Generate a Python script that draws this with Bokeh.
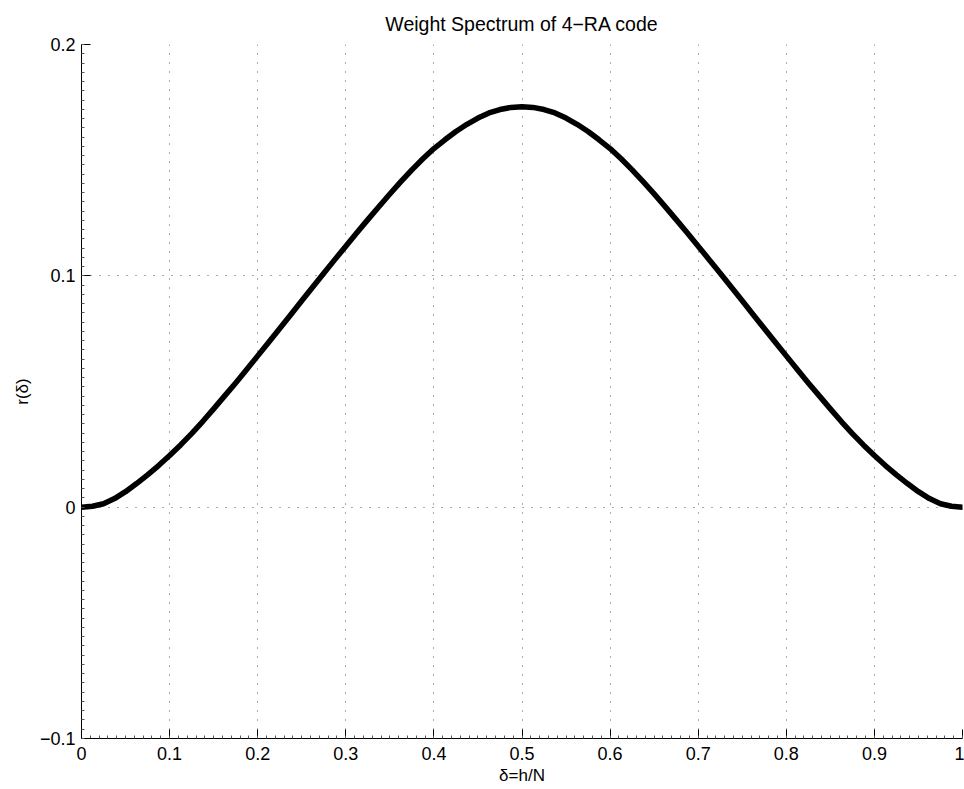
from bokeh.plotting import figure
from bokeh.models import FixedTicker, Range1d
from bokeh.embed import file_html
from bokeh.resources import INLINE

# data (delta = h/N, r(delta))
delta = [0.0, 0.0125, 0.025, 0.0375, 0.05, 0.0625, 0.075, 0.0875, 0.1, 0.1125,
         0.125, 0.1375, 0.15, 0.1625, 0.175, 0.1875, 0.2, 0.2125, 0.225, 0.2375,
         0.25, 0.2625, 0.275, 0.2875, 0.3, 0.3125, 0.325, 0.3375, 0.35, 0.3625,
         0.375, 0.3875, 0.4, 0.4125, 0.425, 0.4375, 0.45, 0.4625, 0.475, 0.4875,
         0.5,
         0.5125, 0.525, 0.5375, 0.55, 0.5625, 0.575, 0.5875, 0.6, 0.6125, 0.625,
         0.6375, 0.65, 0.6625, 0.675, 0.6875, 0.7, 0.7125, 0.725, 0.7375, 0.75,
         0.7625, 0.775, 0.7875, 0.8, 0.8125, 0.825, 0.8375, 0.85, 0.8625, 0.875,
         0.8875, 0.9, 0.9125, 0.925, 0.9375, 0.95, 0.9625, 0.975, 0.9875, 1.0]
r_delta = [0.0, 0.0004, 0.0015, 0.0037, 0.0067, 0.0102, 0.0140, 0.0180, 0.0223, 0.0269,
           0.0318, 0.0370, 0.0425, 0.0481, 0.0537, 0.0595, 0.0654, 0.0713, 0.0772, 0.0832,
           0.0892, 0.0952, 0.1011, 0.1070, 0.1128, 0.1186, 0.1243, 0.1299, 0.1354, 0.1407,
           0.1458, 0.1506, 0.1550, 0.1588, 0.1624, 0.1655, 0.1682, 0.1704, 0.1719, 0.1728,
           0.1731,
           0.1728, 0.1719, 0.1704, 0.1682, 0.1655, 0.1624, 0.1588, 0.1550, 0.1506, 0.1458,
           0.1407, 0.1354, 0.1299, 0.1243, 0.1186, 0.1128, 0.1070, 0.1011, 0.0952, 0.0892,
           0.0832, 0.0772, 0.0713, 0.0654, 0.0595, 0.0537, 0.0481, 0.0425, 0.0370, 0.0318,
           0.0269, 0.0223, 0.0180, 0.0140, 0.0102, 0.0067, 0.0037, 0.0015, 0.0004, 0.0]

x_ticks = [0, 0.1, 0.2, 0.3, 0.4, 0.5, 0.6, 0.7, 0.8, 0.9, 1]
x_tick_labels = ["0", "0.1", "0.2", "0.3", "0.4", "0.5", "0.6", "0.7", "0.8", "0.9", "1"]
y_ticks = [-0.1, 0, 0.1, 0.2]
y_tick_labels = ["\u22120.1", "0", "0.1", "0.2"]

title_text = "Weight Spectrum of 4\u2212RA code"
x_label = "\u03b4=h/N"
y_label = "r(\u03b4)"

FONT = "Liberation Sans"

p = figure(width=964, height=789, output_backend="svg", toolbar_location=None,
           x_range=Range1d(0, 1), y_range=Range1d(-0.1, 0.2),
           min_border_left=81, min_border_right=2, min_border_top=43, min_border_bottom=51)
p.outline_line_color = None
p.background_fill_color = "white"
p.border_fill_color = "white"

p.title.text = title_text
p.title.align = "center"
p.title.text_font = FONT
p.title.text_font_size = "19.5px"
p.title.text_font_style = "normal"
p.title.text_color = "black"
p.title.standoff = 20

x_minor = [i / 100 for i in range(0, 101)]
y_minor = [-0.1 + i * 0.004 for i in range(0, 76)]
p.xaxis.ticker = FixedTicker(ticks=x_ticks, minor_ticks=x_minor)
p.yaxis.ticker = FixedTicker(ticks=y_ticks, minor_ticks=y_minor)
p.xaxis.major_label_overrides = {t: l for t, l in zip(x_ticks, x_tick_labels)}
p.yaxis.major_label_overrides = {t: l for t, l in zip(y_ticks, y_tick_labels)}

for ax in (p.xaxis, p.yaxis):
    ax.major_tick_in = 9
    ax.major_tick_out = 0
    ax.minor_tick_in = 3
    ax.minor_tick_out = 0
    ax.axis_line_color = "black"
    ax.major_tick_line_color = "black"
    ax.minor_tick_line_color = "#555555"
    ax.major_label_text_font = FONT
    ax.major_label_text_font_size = "18px"
    ax.major_label_text_color = "black"
    ax.axis_label_text_font = FONT
    ax.axis_label_text_font_size = "17px"
    ax.axis_label_text_font_style = "normal"
    ax.axis_label_text_color = "black"

p.xaxis.axis_label = x_label
p.yaxis.axis_label = y_label
p.xaxis.major_label_standoff = 8
p.yaxis.major_label_standoff = 6
p.xaxis.axis_label_standoff = 3
p.yaxis.axis_label_standoff = 5

p.xgrid.ticker = FixedTicker(ticks=x_ticks)
p.ygrid.ticker = FixedTicker(ticks=y_ticks)
for g in (p.xgrid, p.ygrid):
    g.grid_line_color = "#555555"
    g.grid_line_dash = "1 8"
    g.grid_line_width = 1

p.line(delta, r_delta, line_color="black", line_width=5.5, line_join="round", line_cap="round")

open("out.html", "w").write(file_html(p, INLINE))
